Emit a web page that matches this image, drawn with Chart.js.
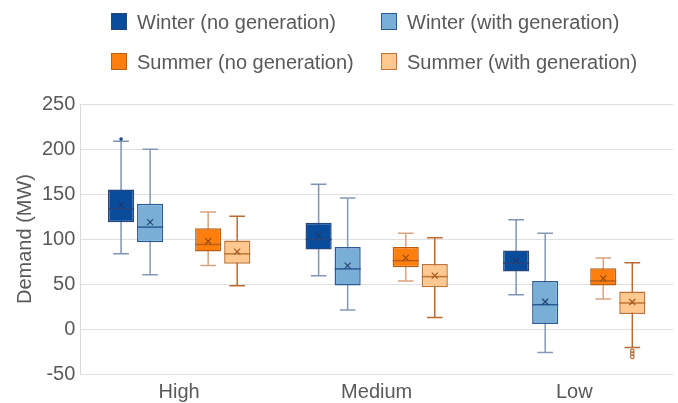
<!DOCTYPE html>
<html>
<head>
<meta charset="utf-8">
<script src="https://cdn.jsdelivr.net/npm/chart.js@4.4.1/dist/chart.umd.min.js"></script>
<style>
  body { margin: 0; background: #fff; font-family: "Liberation Sans", Arial, sans-serif; }
  #wrap { position: relative; width: 678px; height: 403px; }
  #legend { position: absolute; left: 0; top: 0; width: 678px; height: 80px; }
  .swatch { position: absolute; width: 14px; height: 15px; border: 1.5px solid; }
  .label { position: absolute; font-size: 20px; color: #595959; white-space: nowrap; line-height: 24px; }
</style>
</head>
<body>
<div id="wrap">
  <canvas id="chart" width="678" height="403"></canvas>
  <div id="legend"></div>
</div>
<script>
// Categories and series (each entry: [min, q1, median, q3, max, mean])
const categories = ['High', 'Medium', 'Low'];
const seriesNames = ['Winter (no generation)', 'Winter (with generation)', 'Summer (no generation)', 'Summer (with generation)'];

const winterNoGen   = [[83.5, 118.7, 133.7, 155, 208.7, 138], [59.3, 88.3, 99.4, 118, 160.8, 104], [38.1, 63.8, 73, 87.2, 121.4, 76]];
const winterWithGen = [[60.4, 96.4, 113.2, 139.2, 199.8, 118.7], [21, 48.2, 66.8, 91, 145.5, 70.5], [-26.2, 5.5, 27, 53.4, 106.5, 30.3]];
const summerNoGen   = [[70.5, 86, 93.9, 112, 129.9, 97.5], [53.4, 68.6, 76, 91, 106.5, 79], [33.3, 48.2, 53.4, 67.5, 79, 56.3]];
const summerWithGen = [[48, 72.4, 83.5, 98.3, 125.4, 86], [12.8, 46.3, 58.2, 72.3, 101.3, 59.3], [-20.6, 16.6, 28.9, 41.8, 73.5, 30]];

// outliers per category
const winterNoGenOut   = [[211], [], []];
const winterWithGenOut = [[], [], []];
const summerNoGenOut   = [[], [], []];
const summerWithGenOut = [[], [], [-24.3, -27.3, -31]];

const yTicks = [-50, 0, 50, 100, 150, 200, 250];

// styles
const fills    = ['#0a4c9c', '#79afd6', '#ff7f0e', '#ffc891'];
const borders  = ['#25457e', '#2c5a96', '#b85f14', '#bf7435'];
const whiskers = ['#7f93b6', '#8698b8', '#dba37f', '#b96b32'];
const marks    = ['#1c3a70', '#23446f', '#9b4a10', '#a5561c'];
const outlierFilled = [true, false, false, false];

const stats = [winterNoGen, winterWithGen, summerNoGen, summerWithGen];
const outliers = [winterNoGenOut, winterWithGenOut, summerNoGenOut, summerWithGenOut];

// dataset index -> series index (slot 2 is an empty spacer between winter and summer)
const slotSeries = [0, 1, null, 2, 3];

const datasets = slotSeries.map(s => {
  if (s === null) {
    return { label: '', data: categories.map(() => null), backgroundColor: 'transparent' };
  }
  return {
    label: seriesNames[s],
    data: stats[s].map(d => [d[1], d[3]]),
    backgroundColor: fills[s],
    borderColor: borders[s],
    borderWidth: 1.5,
    borderSkipped: false,
    seriesIndex: s
  };
});

const boxPlugin = {
  id: 'boxParts',
  beforeDatasetsDraw(chart) {
    const ctx = chart.ctx;
    const y = chart.scales.y;
    chart.data.datasets.forEach((ds, di) => {
      if (ds.seriesIndex === undefined) return;
      const s = ds.seriesIndex;
      chart.getDatasetMeta(di).data.forEach((bar, j) => {
        const d = stats[s][j];
        const cap = bar.width * 0.3;
        ctx.save();
        ctx.strokeStyle = whiskers[s];
        ctx.lineWidth = 1.5;
        ctx.beginPath();
        ctx.moveTo(bar.x, y.getPixelForValue(d[0]));
        ctx.lineTo(bar.x, y.getPixelForValue(d[4]));
        ctx.moveTo(bar.x - cap, y.getPixelForValue(d[0]));
        ctx.lineTo(bar.x + cap, y.getPixelForValue(d[0]));
        ctx.moveTo(bar.x - cap, y.getPixelForValue(d[4]));
        ctx.lineTo(bar.x + cap, y.getPixelForValue(d[4]));
        ctx.stroke();
        ctx.restore();
      });
    });
  },
  afterDatasetsDraw(chart) {
    const ctx = chart.ctx;
    const y = chart.scales.y;
    chart.data.datasets.forEach((ds, di) => {
      if (ds.seriesIndex === undefined) return;
      const s = ds.seriesIndex;
      chart.getDatasetMeta(di).data.forEach((bar, j) => {
        const d = stats[s][j];
        const half = bar.width / 2;
        ctx.save();
        // median
        ctx.strokeStyle = borders[s];
        ctx.lineWidth = 1.5;
        ctx.beginPath();
        ctx.moveTo(bar.x - half, y.getPixelForValue(d[2]));
        ctx.lineTo(bar.x + half, y.getPixelForValue(d[2]));
        ctx.stroke();
        // mean marker
        const my = y.getPixelForValue(d[5]);
        ctx.strokeStyle = marks[s];
        ctx.lineWidth = 1.2;
        ctx.beginPath();
        ctx.moveTo(bar.x - 3, my - 3); ctx.lineTo(bar.x + 3, my + 3);
        ctx.moveTo(bar.x + 3, my - 3); ctx.lineTo(bar.x - 3, my + 3);
        ctx.stroke();
        // outliers
        outliers[s][j].forEach(v => {
          ctx.beginPath();
          ctx.arc(bar.x, y.getPixelForValue(v), 1.8, 0, Math.PI * 2);
          if (outlierFilled[s]) {
            ctx.fillStyle = borders[s];
            ctx.fill();
          } else {
            ctx.strokeStyle = whiskers[s];
            ctx.lineWidth = 1.2;
            ctx.stroke();
          }
        });
        ctx.restore();
      });
    });
  }
};

const ctx = document.getElementById('chart').getContext('2d');
const chart = new Chart(ctx, {
  type: 'bar',
  data: { labels: categories, datasets: datasets },
  options: {
    responsive: false,
    animation: false,
    categoryPercentage: 0.735,
    barPercentage: 0.9,
    layout: { padding: { top: 104, right: 5, left: 13, bottom: -7 } },
    plugins: { legend: { display: false }, tooltip: { enabled: false } },
    scales: {
      x: {
        grid: { display: false, drawTicks: false },
        border: { display: false },
        ticks: { color: '#595959', font: { family: 'Liberation Sans', size: 20, lineHeight: 1.2 }, padding: 6 }
      },
      y: {
        min: -50,
        max: 250,
        afterBuildTicks: axis => { axis.ticks = yTicks.map(v => ({ value: v })); },
        grid: { color: '#e0e0e0', lineWidth: 1, drawTicks: false },
        border: { display: true, color: '#d9d9d9' },
        ticks: { color: '#595959', font: { family: 'Liberation Sans', size: 20 }, padding: 5 },
        title: { display: true, text: 'Demand (MW)', color: '#595959', font: { family: 'Liberation Sans', size: 20 }, padding: 0 }
      }
    }
  },
  plugins: [boxPlugin]
});

// legend, two columns by two rows
const legend = document.getElementById('legend');
const legendCols = [111, 381];
const legendRows = [13, 53];
seriesNames.forEach((name, i) => {
  const col = i % 2, row = Math.floor(i / 2);
  const sw = document.createElement('div');
  sw.className = 'swatch';
  sw.style.left = legendCols[col] + 'px';
  sw.style.top = legendRows[row] + 'px';
  sw.style.background = fills[i];
  sw.style.borderColor = borders[i];
  legend.appendChild(sw);
  const lb = document.createElement('div');
  lb.className = 'label';
  lb.textContent = name;
  lb.style.left = (legendCols[col] + 26) + 'px';
  lb.style.top = (legendRows[row] - 3) + 'px';
  legend.appendChild(lb);
});
</script>
</body>
</html>
